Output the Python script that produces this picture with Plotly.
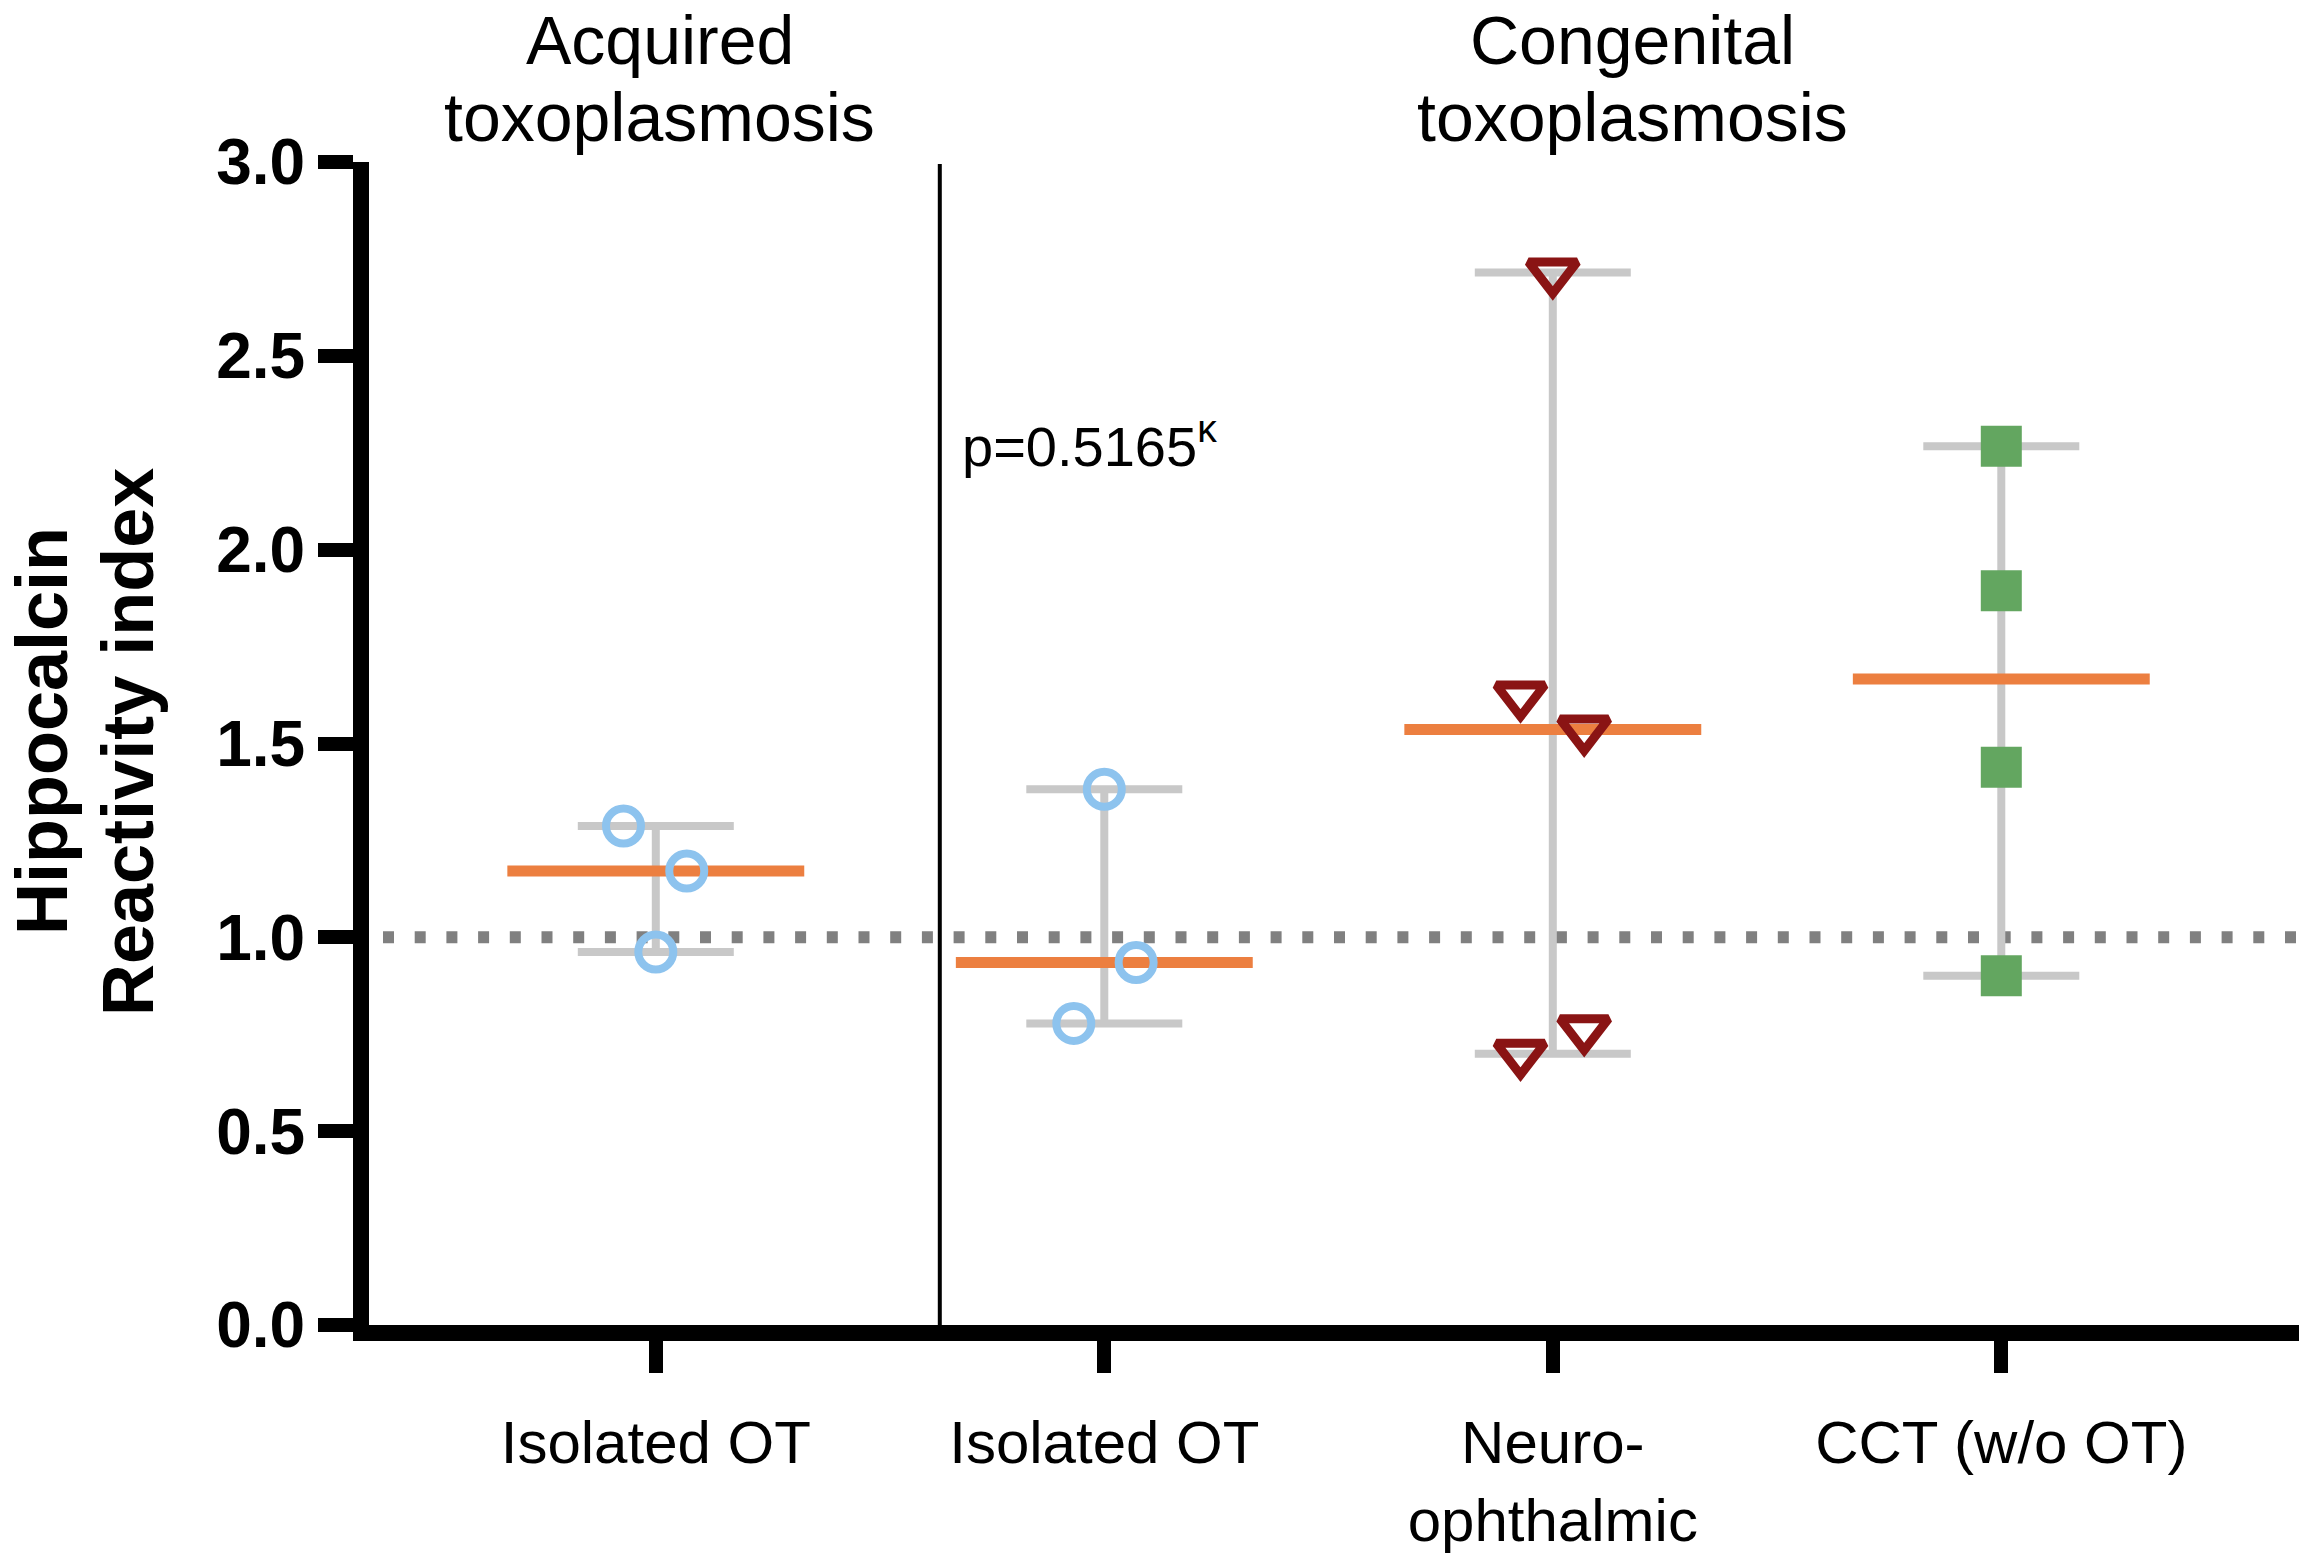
import numpy as np
import plotly.graph_objects as go

# ---------------- data ----------------
categories = ["Isolated OT", "Isolated OT", "Neuro-<br>ophthalmic", "CCT (w/o OT)"]
group_title_acquired = ["Acquired", "toxoplasmosis"]
group_title_congenital = ["Congenital", "toxoplasmosis"]
y_title_lines = ["Hippocalcin", "Reactivity index"]
y_tick_values = [0.0, 0.5, 1.0, 1.5, 2.0, 2.5, 3.0]
reference_level = 1.0
p_value_text = "p=0.5165<sup>κ</sup>"

acq_isolated_vals = [1.287, 1.171, 0.962]
acq_isolated_dx = [-0.072, 0.069, 0.0]
con_isolated_vals = [1.382, 0.935, 0.778]
con_isolated_dx = [0.0, 0.071, -0.068]
neuro_vals = [2.715, 1.624, 1.536, 0.763, 0.700]
neuro_dx = [0.0, -0.072, 0.070, 0.070, -0.072]
cct_vals = [2.267, 1.894, 1.439, 0.901]
cct_dx = [0.0, 0.0, 0.0, 0.0]

groups = [
    (acq_isolated_vals, acq_isolated_dx,
     dict(symbol="circle-open", size=35, color="#8DC3EE", line=dict(width=8, color="#8DC3EE"))),
    (con_isolated_vals, con_isolated_dx,
     dict(symbol="circle-open", size=35, color="#8DC3EE", line=dict(width=8, color="#8DC3EE"))),
    (neuro_vals, neuro_dx,
     dict(symbol="triangle-down-open", size=42, color="#8A1414", line=dict(width=9, color="#8A1414"))),
    (cct_vals, cct_dx,
     dict(symbol="square", size=41, color="#63A660", line=dict(width=0))),
]

# ---------------- geometry (pixels) ----------------
W, H = 2303, 1559
L, R, T, B = 369, 2299, 162, 1325
cat0_px, cat_step_px = 655.8, 448.5
x_range = [(L - cat0_px) / cat_step_px, (R - cat0_px) / cat_step_px]


def px_x(p):
    return (p - L) / (R - L)


def px_y(p):
    return (B - p) / (B - T)


FONT = "Liberation Sans, Arial, Helvetica, sans-serif"
GRAY = "#C8C8C8"
ORANGE = "#EC7F40"
MEDIAN_HALF = 0.331

fig = go.Figure()

for i, (vals, dx, mk) in enumerate(groups):
    med = float(np.median(vals))
    vmax, vmin = max(vals), min(vals)
    # range bar with caps
    fig.add_trace(go.Scatter(
        x=[i], y=[med], mode="markers",
        marker=dict(size=1, color="rgba(0,0,0,0)"),
        error_y=dict(type="data", symmetric=False, array=[vmax - med], arrayminus=[med - vmin],
                     width=78, thickness=8, color=GRAY),
        showlegend=False, hoverinfo="skip"))
    # median line
    fig.add_trace(go.Scatter(
        x=[i - MEDIAN_HALF, i + MEDIAN_HALF], y=[med, med], mode="lines",
        line=dict(color=ORANGE, width=11), showlegend=False, hoverinfo="skip"))
    # points
    fig.add_trace(go.Scatter(
        x=[i + d for d in dx], y=vals, mode="markers", marker=mk,
        showlegend=False, cliponaxis=False))

# dotted reference line at 1.0
fig.add_shape(type="line", xref="paper", yref="y", x0=px_x(383), x1=1.0,
              y0=reference_level, y1=reference_level,
              line=dict(color="#808080", width=12, dash="11px,20.7px"), layer="below")
# separator between acquired and congenital
sep_x = (939.8 - cat0_px) / cat_step_px
fig.add_shape(type="line", xref="x", yref="y", x0=sep_x, x1=sep_x, y0=0, y1=2.995,
              line=dict(color="black", width=4), layer="below")

annotations = []
# group titles
for text, cx, cy in [(group_title_acquired[0], 659.5, 40), (group_title_acquired[1], 659.5, 117),
                     (group_title_congenital[0], 1632, 40), (group_title_congenital[1], 1632, 117)]:
    annotations.append(dict(text=text, xref="paper", yref="paper", x=px_x(cx), y=px_y(cy),
                            xanchor="center", yanchor="middle", showarrow=False,
                            font=dict(family=FONT, size=68, color="black")))
# y-axis title (two lines)
for text, cx, cy in [(y_title_lines[0], 42, 731), (y_title_lines[1], 128, 742)]:
    annotations.append(dict(text=text, xref="paper", yref="paper", x=px_x(cx), y=px_y(cy),
                            xanchor="center", yanchor="middle", textangle=-90, showarrow=False,
                            font=dict(family=FONT, size=72, color="black", weight="bold")))
# p-value
annotations.append(dict(text=p_value_text, xref="paper", yref="paper", x=px_x(960), y=px_y(480),
                        xanchor="left", yanchor="bottom", showarrow=False,
                        font=dict(family=FONT, size=56, color="black")))

fig.update_layout(
    width=W, height=H,
    margin=dict(l=L, r=W - R, t=T, b=H - B, pad=0, autoexpand=False),
    paper_bgcolor="white", plot_bgcolor="white",
    showlegend=False,
    annotations=annotations,
    xaxis=dict(
        range=x_range, tickmode="array", tickvals=list(range(len(categories))), ticktext=categories,
        showline=True, linewidth=16, linecolor="black", automargin=False,
        ticks="outside", ticklen=32, tickwidth=14, tickcolor="black",
        showgrid=False, zeroline=False, ticklabelstandoff=18,
        tickfont=dict(family=FONT, size=60, color="black"),
    ),
    yaxis=dict(
        range=[0, 3], tickmode="array", tickvals=y_tick_values,
        ticktext=["%.1f" % v for v in y_tick_values], automargin=False,
        showline=True, linewidth=16, linecolor="black",
        ticks="outside", ticklen=35, tickwidth=14, tickcolor="black",
        showgrid=False, zeroline=False,
        tickfont=dict(family=FONT, size=64, color="black", weight="bold"),
    ),
)

fig.write_html("out.html", config={"displayModeBar": False},
               post_script="document.body.style.margin='0';")
